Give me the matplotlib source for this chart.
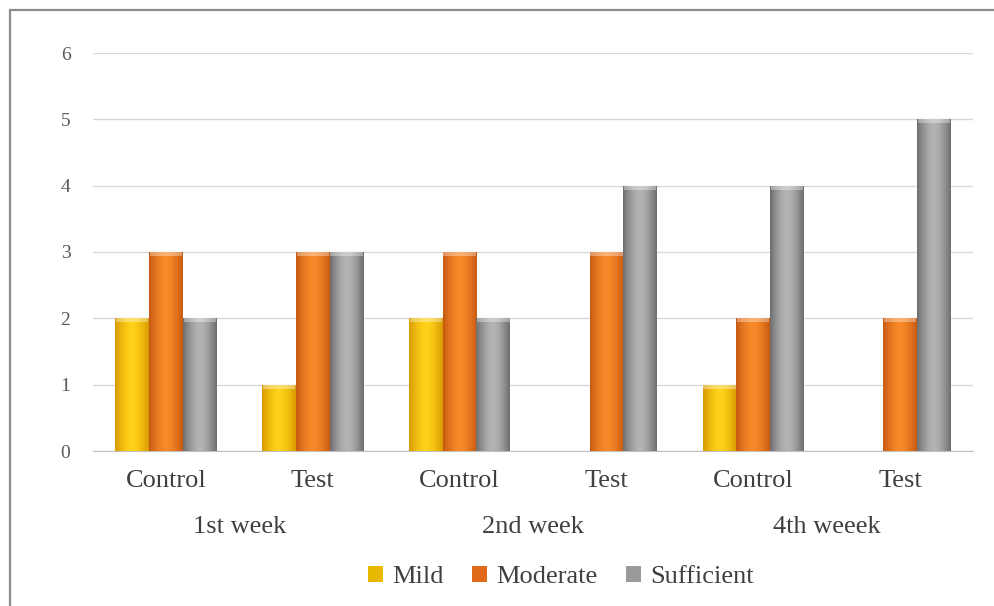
import matplotlib
matplotlib.use("Agg")
import matplotlib.pyplot as plt
import numpy as np
from matplotlib.colors import LinearSegmentedColormap
from matplotlib.patches import Rectangle

groups = ["Control", "Test", "Control", "Test", "Control", "Test"]
weeks = ["1st week", "2nd week", "4th weeek"]
series = ["Mild", "Moderate", "Sufficient"]
mild = [2, 1, 2, 0, 1, 0]
moderate = [3, 3, 3, 3, 2, 2]
sufficient = [2, 3, 2, 4, 4, 5]

# (edge, centre) colours for the cylinder-like shading
shades = {
    "Mild": ("#d99a00", "#ffd21a"),
    "Moderate": ("#c65a12", "#f98a2a"),
    "Sufficient": ("#6e6e6e", "#b4b4b4"),
}
legend_colors = {"Mild": "#e8b800", "Moderate": "#e06a1a", "Sufficient": "#9a9a9a"}

plt.rcParams["font.family"] = ["Liberation Serif", "DejaVu Serif"]

fig = plt.figure(figsize=(9.95, 6.06), dpi=100)
ax = fig.add_axes([92.6 / 995, 1 - 451 / 606, (973.4 - 92.6) / 995, (451 - 53) / 606])

x = np.arange(len(groups))
w = 0.23
grad = np.linspace(-1, 1, 64)
grad = (1 - np.abs(grad) ** 1.6)[None, :]

for i, (name, vals) in enumerate(zip(series, [mild, moderate, sufficient])):
    edge, mid = shades[name]
    cmap = LinearSegmentedColormap.from_list(name, [edge, mid])
    bars = ax.bar(x + (i - 1) * w, vals, w, color=mid, zorder=2, linewidth=0)
    for b in bars:
        h = b.get_height()
        if h <= 0:
            continue
        x0, x1 = b.get_x(), b.get_x() + b.get_width()
        im = ax.imshow(grad, cmap=cmap, aspect="auto", extent=[x0, x1, 0, h],
                       zorder=3, interpolation="bicubic", vmin=0, vmax=1)
        im.set_clip_path(b)
        # lighter cap at the top
        ax.add_patch(Rectangle((x0 + 0.02 * w, h - 0.06), w * 0.96, 0.06,
                               facecolor="white", alpha=0.35, linewidth=0, zorder=4))

ax.set_xlim(-0.5, len(groups) - 0.5)
ax.set_ylim(0, 6)
ax.set_yticks(range(7))
ax.yaxis.grid(True, color="#d9d9d9", linewidth=1)
ax.set_axisbelow(True)
for s in ["top", "right", "left"]:
    ax.spines[s].set_visible(False)
ax.spines["bottom"].set_color("#bfbfbf")
ax.tick_params(axis="y", length=0, pad=16, labelsize=14, labelcolor="#595959")
ax.tick_params(axis="x", length=0, pad=14, labelsize=19, labelcolor="#404040")
ax.set_xticks(x)
ax.set_xticklabels(groups)

for k, wk in enumerate(weeks):
    ax.text(2 * k + 0.5, -1.15, wk, ha="center", va="center", fontsize=19,
            color="#404040", transform=ax.transData)

handles = [Rectangle((0, 0), 1, 1, facecolor=legend_colors[n]) for n in series]
fig.legend(handles, series, loc="center", bbox_to_anchor=(561 / 995, 1 - 577 / 606),
           ncol=3, frameon=False, fontsize=19, handlelength=0.55, handleheight=0.55,
           handletextpad=0.35, columnspacing=1.1, labelcolor="#404040")

# outer frame
fig.patches.append(Rectangle((9.5 / 995, -0.1), 1.2, 1 - 10 / 606 + 0.1,
                             transform=fig.transFigure, fill=False,
                             edgecolor="#8c8c8c", linewidth=1.6))

fig.savefig("out.png", dpi=100)
